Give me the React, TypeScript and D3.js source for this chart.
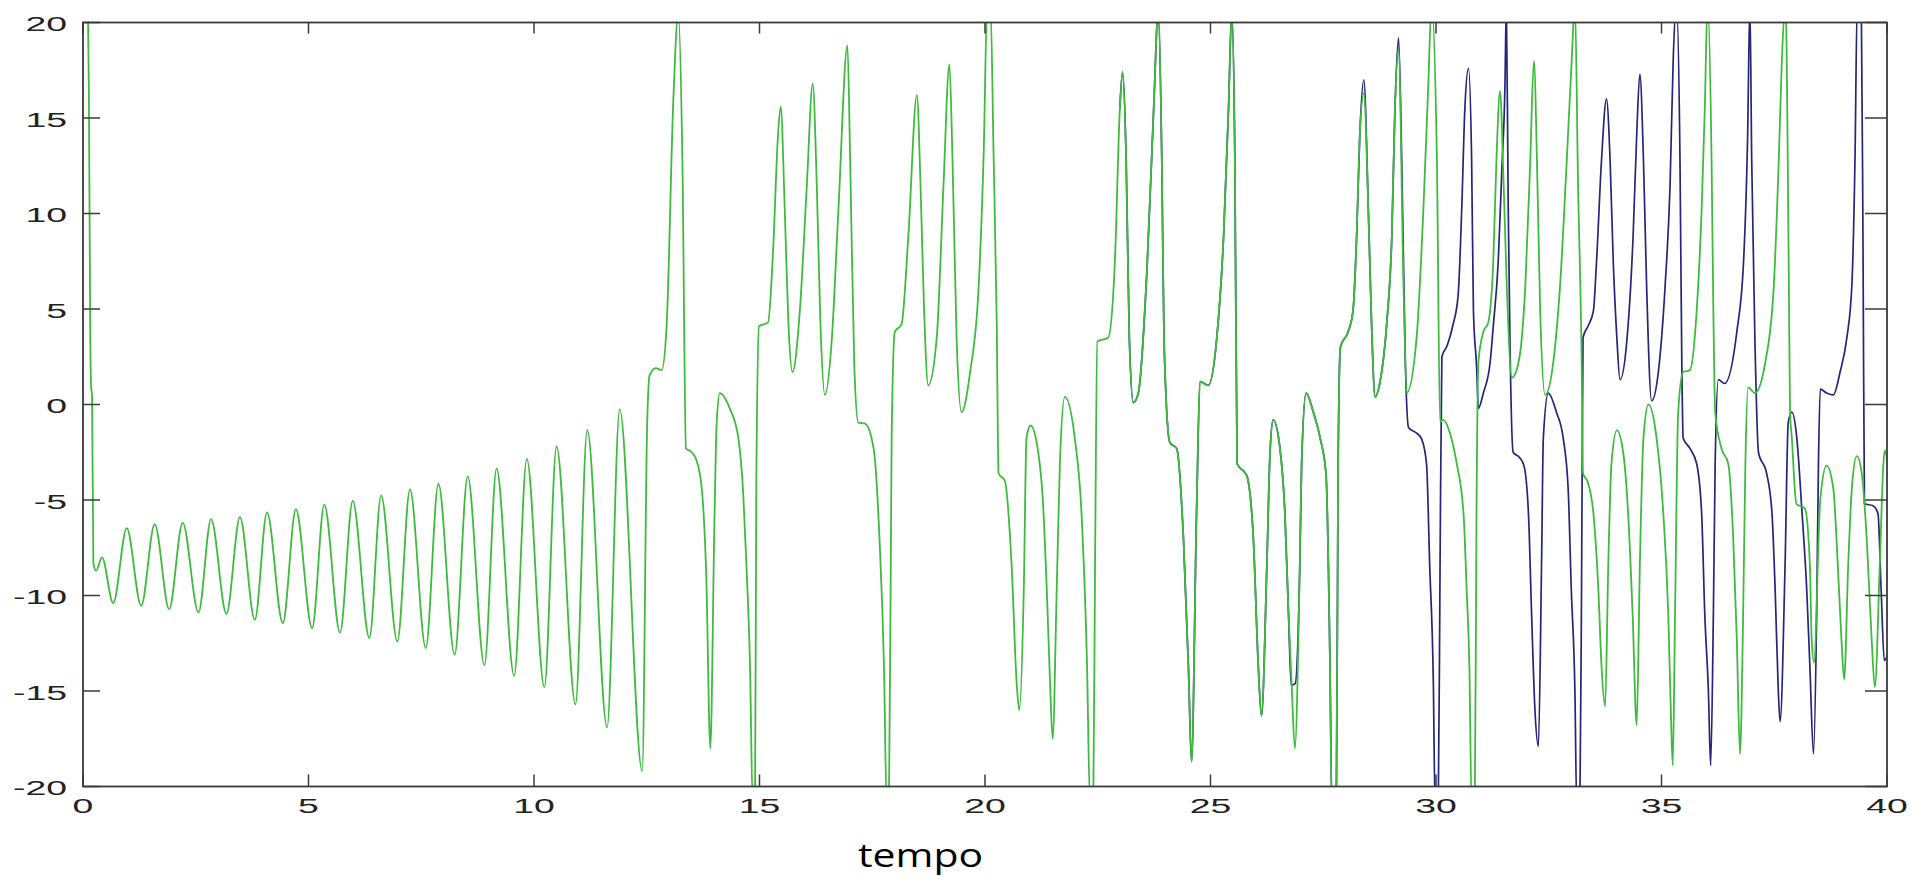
import React from 'react';
import * as d3 from 'd3';

// ---- data ----
const xTicks: number[] = [0, 5, 10, 15, 20, 25, 30, 35, 40];
const yTicks: number[] = [-20, -15, -10, -5, 0, 5, 10, 15, 20];
const xAxisLabel = 'tempo';

// green series [tempo, value]
const greenSeries: [number, number][] = [
  [0, 24], [0.11, 20.5], [0.13, 16.5], [0.16, 4], [0.18, 0.9], [0.2, 0.5], [0.23, -8.3], [0.29, -8.7], [0.42, -8.0], [0.67, -10.4],
  [0.97, -6.47], [1.29, -10.54], [1.59, -6.26], [1.91, -10.71], [2.21, -6.18], [2.56, -10.89], [2.84, -6.0], [3.18, -10.96],
  [3.48, -5.9], [3.81, -11.27], [4.08, -5.65], [4.43, -11.45], [4.72, -5.48], [5.08, -11.71], [5.35, -5.24], [5.70, -11.94],
  [5.98, -5.04], [6.35, -12.23], [6.61, -4.76], [6.97, -12.41], [7.25, -4.45], [7.60, -12.75], [7.88, -4.15], [8.24, -13.1],
  [8.53, -3.77], [8.90, -13.65], [9.17, -3.35], [9.56, -14.2], [9.84, -2.85], [10.23, -14.8], [10.50, -2.2], [10.92, -15.7],
  [11.18, -1.33], [11.62, -16.9], [11.90, -0.25], [12.40, -19.2],
  [12.51, -0.95], [12.56, 1.5], [12.70, 1.9], [12.83, 1.8], [12.94, 4.1], [13.09, 16.0], [13.20, 20.5], [13.29, 12.8],
  [13.37, -2.3], [13.50, -2.5], [13.60, -2.9], [13.72, -4.4], [13.82, -9.0], [13.91, -18.0], [14.00, -6.2], [14.05, -1.0],
  [14.12, 0.6], [14.34, -0.2], [14.53, -1.75], [14.64, -4.7], [14.71, -8.4], [14.79, -13.7], [14.85, -21], [14.90, -21],
  [14.93, -3.9], [14.99, 4.1], [15.19, 4.3], [15.30, 8.0], [15.41, 14.1], [15.47, 15.6], [15.56, 10.2], [15.64, 4.3],
  [15.73, 1.7], [15.90, 5.1], [16.05, 11.5], [16.18, 16.8], [16.27, 11.5], [16.35, 4.3], [16.45, 0.5], [16.60, 3.3],
  [16.75, 10.2], [16.95, 18.8], [17.01, 12.8], [17.10, 2.2], [17.19, -0.95], [17.34, -1.0], [17.53, -2.3], [17.66, -7.0],
  [17.76, -13.7], [17.82, -21], [17.87, -21], [17.93, -1.75], [18.00, 3.8], [18.15, 4.2], [18.30, 8.8], [18.49, 16.2],
  [18.57, 11.5], [18.65, 4.9], [18.74, 1.0], [18.93, 3.5], [19.08, 11.5], [19.21, 17.8], [19.28, 12.8], [19.37, 3.5],
  [19.48, -0.4], [19.67, 1.7], [19.86, 6.2], [19.97, 13.1], [20.05, 21], [20.12, 21], [20.19, 13.1], [20.26, 4.3],
  [20.30, -3.6], [20.44, -4.0], [20.59, -8.4], [20.70, -14.5], [20.76, -16.0], [20.86, -9.7], [20.92, -1.75], [21.01, -1.1],
  [21.18, -2.5], [21.28, -4.9], [21.37, -9.7], [21.44, -14.4], [21.50, -17.5], [21.59, -9.7], [21.66, -3.1], [21.77, 0.4],
  [21.99, -1.75], [22.14, -5.7], [22.26, -13.4], [22.33, -21], [22.40, -21], [22.44, -8.4], [22.49, 3.3], [22.73, 3.5],
  [22.88, 7.5], [22.99, 15.5], [23.05, 17.4], [23.13, 12.8], [23.20, 3.5], [23.29, 0.1], [23.40, 0.6], [23.59, 7.0],
  [23.74, 15.5], [23.84, 20.5], [23.92, 12.8], [23.97, 3.3], [24.10, -2.0], [24.25, -2.3], [24.40, -7.0], [24.51, -13.7],
  [24.58, -18.7], [24.69, -5.7], [24.77, 1.2], [24.95, 1.0], [25.14, 3.5], [25.29, 8.8], [25.40, 15.5], [25.47, 20.5],
  [25.54, 12.8], [25.59, -3.1], [25.80, -3.7], [25.95, -7.0], [26.06, -13.7], [26.13, -16.3], [26.25, -8.4], [26.32, -2.5],
  [26.39, -0.8], [26.54, -2.3], [26.65, -5.7], [26.73, -11.0], [26.80, -14.7], [26.87, -18.0], [26.98, -8.4], [27.02, -3.1],
  [27.12, 0.6], [27.28, -0.4], [27.43, -1.75], [27.56, -3.6], [27.65, -13.7], [27.69, -21], [27.79, -21], [27.83, -3.1],
  [27.88, 3.0], [28.05, 3.8], [28.16, 4.9], [28.24, 8.8], [28.31, 14.1], [28.40, 16.3], [28.50, 10.2], [28.57, 4.3],
  [28.65, 0.4], [28.76, 1.2], [28.91, 4.3], [29.02, 8.8], [29.09, 15.5], [29.17, 18.6], [29.28, 6.2], [29.35, 0.6],
  [29.57, 3.5], [29.72, 10.2], [29.83, 16.8], [29.90, 21], [30.02, 12.8], [30.09, -0.9], [30.16, -0.8], [30.31, -1.5],
  [30.46, -3.1], [30.61, -5.7], [30.68, -9.7], [30.74, -13.7], [30.79, -21], [30.86, -21], [30.90, -5.0], [30.94, 2.2],
  [31.05, 3.8], [31.16, 4.3], [31.27, 7.5], [31.34, 12.8], [31.42, 16.4], [31.50, 11.5], [31.57, 6.2], [31.68, 1.4],
  [31.83, 2.2], [31.98, 6.2], [32.09, 12.8], [32.17, 18.0], [32.25, 11.5], [32.31, 4.9], [32.42, 0.5], [32.60, 2.2],
  [32.75, 6.2], [32.90, 12.8], [33.01, 18.1], [33.08, 21], [33.15, 11.5], [33.23, 2.2], [33.26, -3.6], [33.37, -4.1],
  [33.49, -5.7], [33.60, -9.7], [33.67, -13.7], [33.75, -15.8], [33.82, -8.4], [33.89, -3.1], [34.01, -1.35], [34.15, -2.5],
  [34.26, -5.7], [34.36, -11.0], [34.45, -16.8], [34.52, -8.4], [34.60, -1.75], [34.71, 0.0], [34.89, -1.75], [35.04, -5.7],
  [35.15, -11.0], [35.21, -16.3], [35.25, -18.9], [35.30, -11.0], [35.37, -0.4], [35.48, 1.7], [35.63, 1.8], [35.78, 4.9],
  [35.89, 10.2], [35.96, 15.5], [36.02, 21], [36.11, 12.8], [36.15, 4.9], [36.19, -0.4], [36.33, -2.3], [36.48, -3.1],
  [36.59, -7.0], [36.67, -12.3], [36.74, -18.3], [36.81, -11.0], [36.86, -3.1], [36.92, 0.9], [37.07, 0.6], [37.30, 2.2],
  [37.49, 6.2], [37.60, 12.8], [37.67, 18.1], [37.75, 21], [37.82, 7.5], [37.85, -0.4], [37.89, -1.75], [37.99, -5.2],
  [38.18, -5.45], [38.29, -8.4], [38.33, -12.3], [38.38, -13.5], [38.52, -5.0], [38.66, -3.2], [38.81, -4.4], [38.88, -7.0],
  [38.99, -12.3], [39.05, -14.4], [39.14, -8.4], [39.22, -4.4], [39.33, -2.7], [39.44, -3.6], [39.55, -7.0], [39.66, -12.3],
  [39.73, -14.8], [39.84, -8.4], [39.92, -3.1], [39.95, -2.4], [40, -2.8],
];

// dark blue series [tempo, value] (hidden under green before ~23)
const blueSeries: [number, number][] = [
  [22.99, 15.5], [23.05, 17.4], [23.13, 12.8], [23.20, 3.5], [23.29, 0.1], [23.40, 0.6], [23.59, 7.0], [23.74, 15.5],
  [23.84, 20.5], [23.92, 12.8], [23.97, 3.3], [24.10, -2.0], [24.25, -2.3], [24.40, -7.0], [24.51, -13.7], [24.58, -18.7],
  [24.69, -5.7], [24.77, 1.2], [24.95, 1.0], [25.14, 3.5], [25.29, 8.8], [25.40, 15.5], [25.47, 20.5], [25.54, 12.8],
  [25.59, -3.1], [25.80, -3.7], [25.95, -7.0], [26.06, -13.7], [26.13, -16.3], [26.25, -8.4], [26.32, -2.5], [26.39, -0.8],
  [26.54, -2.3], [26.65, -5.7], [26.73, -11.0], [26.79, -14.7], [26.88, -14.6], [26.98, -8.4], [27.02, -3.1], [27.12, 0.6],
  [27.28, -0.4], [27.43, -1.75], [27.56, -3.6], [27.65, -13.7], [27.69, -21], [27.79, -21], [27.83, -3.1], [27.88, 3.0],
  [28.05, 3.8], [28.16, 4.9], [28.24, 8.8], [28.31, 14.1], [28.40, 17.0], [28.50, 10.2], [28.57, 4.3], [28.65, 0.4],
  [28.76, 1.2], [28.91, 4.3], [29.02, 8.8], [29.09, 15.5], [29.17, 19.2], [29.24, 12.8], [29.32, 2.2], [29.39, -1.2],
  [29.57, -1.5], [29.68, -1.8], [29.79, -3.1], [29.86, -8.4], [29.94, -14.4], [29.98, -21], [30.05, -21], [30.09, -8.4],
  [30.13, 2.5], [30.25, 3.1], [30.38, 4.2], [30.49, 5.7], [30.57, 10.2], [30.64, 15.5], [30.72, 17.6], [30.79, 12.8],
  [30.83, 4.9], [30.90, 2.0], [30.94, -0.2], [31.05, 0.6], [31.20, 2.2], [31.27, 4.1], [31.38, 7.5], [31.46, 12.3],
  [31.53, 16.8], [31.56, 21], [31.60, 10.7], [31.64, 3.3], [31.71, -2.5], [31.86, -2.8], [31.95, -3.2], [32.05, -5.7],
  [32.12, -11.0], [32.19, -15.8], [32.27, -17.9], [32.34, -8.4], [32.38, -1.75], [32.49, 0.6], [32.67, -0.4], [32.82, -1.75],
  [32.93, -4.4], [33.00, -9.7], [33.08, -15.0], [33.12, -21], [33.19, -21], [33.23, -8.4], [33.26, 3.5], [33.37, 4.1],
  [33.49, 4.9], [33.56, 7.5], [33.67, 12.8], [33.78, 16.0], [33.86, 12.8], [33.93, 7.5], [34.01, 3.5], [34.08, 1.3],
  [34.23, 3.3], [34.37, 8.8], [34.45, 14.1], [34.52, 17.3], [34.60, 12.8], [34.67, 6.2], [34.78, 0.2], [34.93, 1.7],
  [35.08, 6.2], [35.19, 11.5], [35.26, 18.1], [35.33, 21], [35.41, 12.8], [35.45, 2.2], [35.48, -1.75], [35.63, -2.3],
  [35.78, -3.1], [35.89, -5.7], [35.96, -11.0], [36.04, -15.0], [36.09, -18.9], [36.15, -11.0], [36.19, -3.1], [36.26, 1.3],
  [36.40, 1.1], [36.67, 3.8], [36.82, 7.5], [36.91, 14.1], [36.96, 21], [37.00, 12.8], [37.07, 3.5], [37.15, -2.5],
  [37.33, -3.6], [37.45, -5.7], [37.52, -9.7], [37.59, -15.0], [37.63, -16.6], [37.74, -8.4], [37.81, -0.95], [37.89, -0.4],
  [38.00, -1.75], [38.11, -5.45], [38.22, -9.7], [38.29, -13.7], [38.37, -18.3], [38.44, -11.0], [38.48, -3.1], [38.52, 0.8],
  [38.66, 0.6], [38.81, 0.5], [38.96, 1.7], [39.11, 3.5], [39.22, 6.2], [39.29, 12.8], [39.34, 21], [39.43, 21],
  [39.47, 7.4], [39.50, -5.2], [39.69, -5.3], [39.80, -5.7], [39.87, -9.7], [39.94, -13.4], [40, -13.2],
];

const GREEN = '#3dbb3d';
const BLUE = '#25257a';
const AXIS = '#3a3a3a';
const LABEL = '#222222';

export default function App() {
  const W = 1921;
  const H = 885;
  const left = 83, right = 1887, top = 22.5, bottom = 786.5;
  const x = d3.scaleLinear().domain([0, 40]).range([left, right]);
  const y = d3.scaleLinear().domain([-20, 20]).range([bottom, top]);
  const line = d3
    .line<[number, number]>()
    .x((d) => x(d[0]))
    .y((d) => y(d[1]))
    .curve(d3.curveMonotoneX);

  const tickFont = { fontFamily: '"Liberation Sans", Arial, sans-serif', fontSize: 21, fill: LABEL };

  return (
    <svg
      width={W}
      height={H}
      viewBox={`0 0 ${W} ${H}`}
      style={{ position: 'absolute', left: 0, top: 0, display: 'block', background: '#fff' }}
    >
      <defs>
        <clipPath id="plotClip">
          <rect x={left} y={top} width={right - left} height={bottom - top} />
        </clipPath>
      </defs>
      <rect x={0} y={0} width={W} height={H} fill="#ffffff" />

      <g clipPath="url(#plotClip)">
        <path d={line(blueSeries) || ''} fill="none" stroke={BLUE} strokeWidth={1.7} strokeLinejoin="round" />
        <path d={line(greenSeries) || ''} fill="none" stroke={GREEN} strokeWidth={1.8} strokeLinejoin="round" />
      </g>

      {/* box */}
      <rect x={left} y={top} width={right - left} height={bottom - top} fill="none" stroke={AXIS} strokeWidth={1.8} />

      {/* x ticks (bottom and top, inward) */}
      {xTicks.map((t) => (
        <g key={'xt' + t}>
          <line x1={x(t)} x2={x(t)} y1={bottom} y2={bottom - 12} stroke={AXIS} strokeWidth={1.5} />
          <line x1={x(t)} x2={x(t)} y1={top} y2={top + 11} stroke={AXIS} strokeWidth={1.5} />
          <text
            transform={`translate(${x(t)},813) scale(1.78,1)`}
            textAnchor="middle"
            {...tickFont}
          >
            {t}
          </text>
        </g>
      ))}

      {/* y ticks (left and right, inward) */}
      {yTicks.map((v) => (
        <g key={'yt' + v}>
          <line x1={left} x2={left + 17} y1={y(v)} y2={y(v)} stroke={AXIS} strokeWidth={1.5} />
          <line x1={right} x2={right - 22} y1={y(v)} y2={y(v)} stroke={AXIS} strokeWidth={1.5} />
          <text
            transform={`translate(67,${y(v) + 8.5}) scale(1.78,1)`}
            textAnchor="end"
            {...tickFont}
          >
            {v}
          </text>
        </g>
      ))}

      <text
        x={858}
        y={867}
        textLength={125}
        lengthAdjust="spacingAndGlyphs"
        fontFamily='"Open Sans", sans-serif'
        fontSize={32}
        fill="#000"
      >
        {xAxisLabel}
      </text>
    </svg>
  );
}
